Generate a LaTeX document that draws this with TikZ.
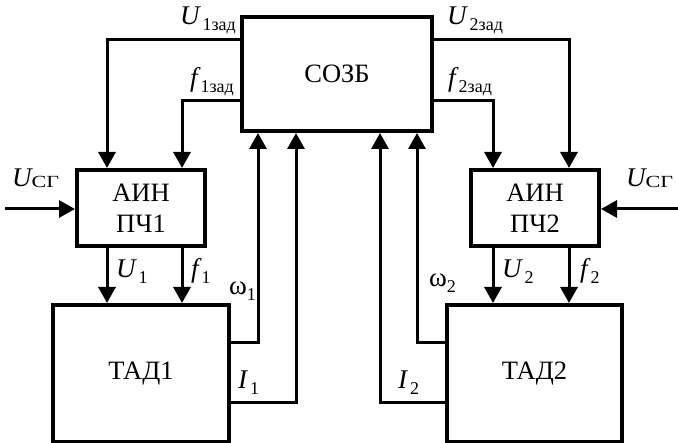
\documentclass[tikz,border=0pt]{standalone}
\usepackage{fontspec}
\setmainfont{Liberation Serif}
\usetikzlibrary{arrows.meta}
\newcommand\vlab[2]{{\itshape #1}\raisebox{-6pt}{\fontsize{18}{18}\selectfont #2}}
\newcommand\glab[2]{{#1}\raisebox{-6pt}{\fontsize{18}{18}\selectfont #2}}
\newcommand\sglab{{\itshape U}\raisebox{-1pt}{\fontsize{17}{17}\selectfont\scalebox{1.3}[1]{СГ}}}
\begin{document}
\begin{tikzpicture}[x=1pt,y=-1pt,
  blk/.style={draw,line width=4pt,rectangle,inner sep=0pt,align=center,
    font=\fontsize{26.5}{31}\selectfont},
  conn/.style={line width=3pt},
  arr/.style={conn,-{Triangle[length=16pt,width=17pt]}},
  lab/.style={inner sep=0pt,font=\fontsize{27}{30}\selectfont}]
\useasboundingbox (0,0) rectangle (678,443);
% blocks
\node[blk,minimum width=190pt,minimum height=114pt] (sozb) at (337,74) {СОЗБ};
\node[blk,minimum width=128pt,minimum height=76pt] (ain1) at (141,208) {АИН\\ПЧ1};
\node[blk,minimum width=128pt,minimum height=76pt] (ain2) at (535,208) {АИН\\ПЧ2};
\node[blk,minimum width=176pt,minimum height=137pt] (tad1) at (141,373.5) {ТАД1};
\node[blk,minimum width=175pt,minimum height=137pt] (tad2) at (534.5,373.5) {ТАД2};
% helper coordinates
\coordinate (xU1) at (107,0);
\coordinate (xF1) at (182,0);
\coordinate (xU2) at (569,0);
\coordinate (xF2) at (493,0);
\coordinate (xW1) at (258,0);
\coordinate (xI1) at (296,0);
\coordinate (xW2) at (417,0);
\coordinate (xI2) at (380,0);
\coordinate (yU) at (0,40);
\coordinate (yF) at (0,101);
\coordinate (ySG) at (0,209);
\coordinate (yW) at (0,343);
\coordinate (yI) at (0,403);
\coordinate (cL) at (5,209);
\coordinate (cR) at (678,209);
% connectors
\draw[arr] (sozb.west |- yU) -| (ain1.north -| xU1);
\draw[arr] (sozb.west |- yF) -| (ain1.north -| xF1);
\draw[arr] (sozb.east |- yU) -| (ain2.north -| xU2);
\draw[arr] (sozb.east |- yF) -| (ain2.north -| xF2);
\draw[arr] (cL) -- (ain1.west |- ySG);
\draw[arr] (cR) -- (ain2.east |- ySG);
\draw[arr] (ain1.south -| xU1) -- (tad1.north -| xU1);
\draw[arr] (ain1.south -| xF1) -- (tad1.north -| xF1);
\draw[arr] (ain2.south -| xF2) -- (tad2.north -| xF2);
\draw[arr] (ain2.south -| xU2) -- (tad2.north -| xU2);
\draw[arr] (tad1.east |- yW) -| (sozb.south -| xW1);
\draw[arr] (tad1.east |- yI) -| (sozb.south -| xI1);
\draw[arr] (tad2.west |- yW) -| (sozb.south -| xW2);
\draw[arr] (tad2.west |- yI) -| (sozb.south -| xI2);
% labels
\node[lab,anchor=base east] (lU1z) at (236,25) {\vlab{U}{\,1зад}};
\node[lab,anchor=base east] (lF1z) at (234,87) {\vlab{f}{\,1зад}};
\node[lab,anchor=base west] (lU2z) at (447,25) {\vlab{U}{\,2зад}};
\node[lab,anchor=base west] (lF2z) at (448,87) {\vlab{f}{\,2зад}};
\node[lab,anchor=base west] (lSGl) at (12,187) {\sglab};
\node[lab,anchor=base west] (lSGr) at (626,187) {\sglab};
\node[lab,anchor=base west] (lU1) at (116,278) {\vlab{U}{\,1}};
\node[lab,anchor=base west] (lf1) at (191,278) {\vlab{f}{\,1}};
\node[lab,anchor=base west] (lU2) at (502,278) {\vlab{U}{\,2}};
\node[lab,anchor=base west] (lf2) at (580,278) {\vlab{f}{\,2}};
\node[lab,anchor=base east] (lw1) at (256,295) {\glab{ω}{1}};
\node[lab,anchor=base west] (lw2) at (429,287) {\glab{ω}{2}};
\node[lab,anchor=base west] (lI1) at (238,389) {\vlab{I}{\,1}};
\node[lab,anchor=base west] (lI2) at (398,389) {\vlab{I}{\,2}};
\end{tikzpicture}
\end{document}
